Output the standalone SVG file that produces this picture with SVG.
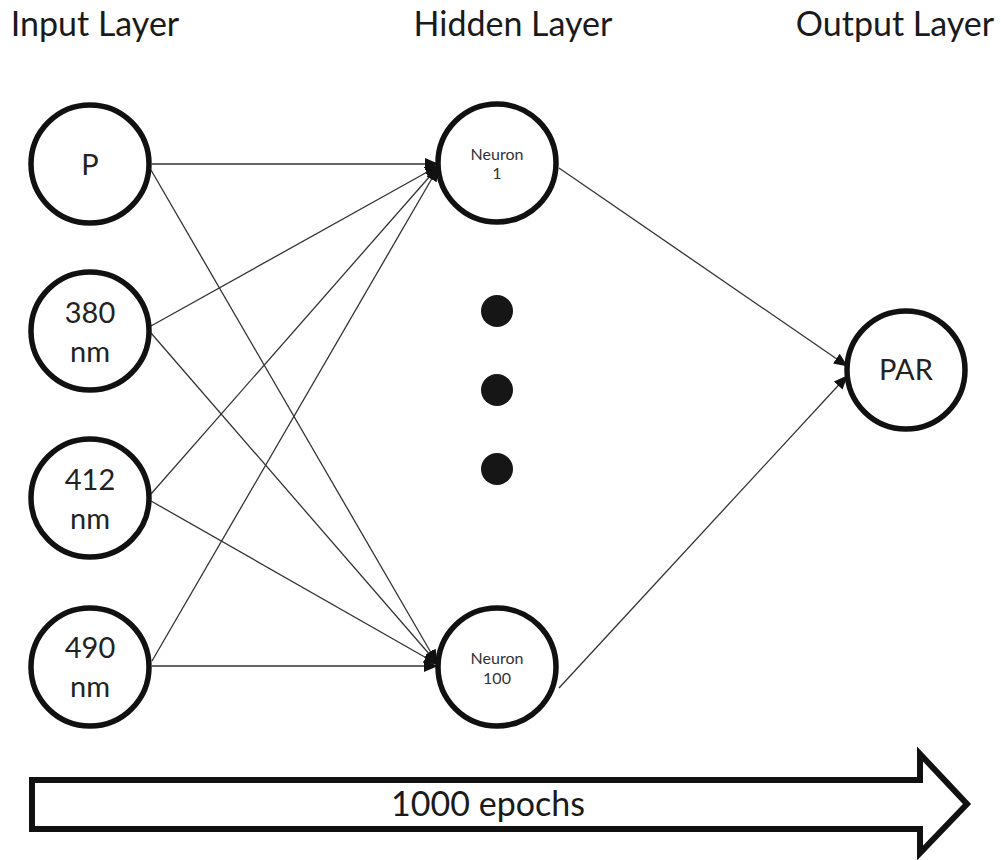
<svg xmlns="http://www.w3.org/2000/svg" width="1001" height="860" viewBox="0 0 1001 860">
<style>
.hdr{font-family:Lato,"Open Sans","Liberation Sans",sans-serif;font-size:34px;fill:#1a1a1a;text-anchor:middle}
.node{fill:#fff;stroke:#111;stroke-width:5.5}
.lbl{font-family:Lato,"Open Sans","Liberation Sans",sans-serif;font-size:29px;fill:#222;text-anchor:middle}
.big{font-family:Lato,"Open Sans","Liberation Sans",sans-serif;font-size:34px;fill:#1a1a1a;text-anchor:middle}
.small{font-family:Lato,"Open Sans","Liberation Sans",sans-serif;font-size:16px;fill:#333;text-anchor:middle}
.edge{stroke:#333;stroke-width:1.3;fill:none;marker-end:url(#ah)}
.dot{fill:#161616}
</style>
<defs>
<marker id="ah" markerUnits="userSpaceOnUse" markerWidth="14" markerHeight="12" viewBox="0 0 14 12" refX="13" refY="6" orient="auto">
<path d="M0,0 L14,6 L0,12 Z" fill="#111"/>
</marker>
</defs>
<g id="headers">
<text class="hdr" x="95" y="36">Input Layer</text>
<text class="hdr" x="513" y="36">Hidden Layer</text>
<text class="hdr" x="895" y="36">Output Layer</text>
</g>
<g id="connectors">
<line class="edge" x1="152" y1="164" x2="438" y2="164"/>
<line class="edge" x1="151" y1="170" x2="437" y2="663"/>
<line class="edge" x1="151" y1="326" x2="438" y2="166"/>
<line class="edge" x1="151" y1="333" x2="437" y2="663"/>
<line class="edge" x1="151" y1="494" x2="438" y2="167"/>
<line class="edge" x1="151" y1="501" x2="437" y2="664"/>
<line class="edge" x1="152" y1="661" x2="438" y2="168"/>
<line class="edge" x1="152" y1="666" x2="437" y2="666"/>
<line class="edge" x1="559" y1="168" x2="847" y2="366"/>
<line class="edge" x1="559" y1="688" x2="847" y2="376"/>
</g>
<g id="node-P"><circle class="node" cx="90" cy="164" r="59"/><text class="lbl" x="90" y="175">P</text></g>
<g id="node-380"><circle class="node" cx="90" cy="331" r="59"/><text class="lbl" x="90" y="323">380</text><text class="lbl" x="90" y="362">nm</text></g>
<g id="node-412"><circle class="node" cx="90" cy="498" r="59"/><text class="lbl" x="90" y="490">412</text><text class="lbl" x="90" y="529">nm</text></g>
<g id="node-490"><circle class="node" cx="90" cy="667" r="59"/><text class="lbl" x="90" y="658">490</text><text class="lbl" x="90" y="697">nm</text></g>
<g id="node-neuron1"><circle class="node" cx="497" cy="163" r="59"/><text class="small" x="497" y="160">Neuron</text><text class="small" x="497" y="179">1</text></g>
<g id="dots"><circle class="dot" cx="497" cy="311" r="16"/><circle class="dot" cx="497" cy="390" r="16"/><circle class="dot" cx="497" cy="469" r="16"/></g>
<g id="node-neuron100"><circle class="node" cx="497" cy="667" r="59"/><text class="small" x="497" y="664">Neuron</text><text class="small" x="497" y="684">100</text></g>
<g id="node-PAR"><circle class="node" cx="906" cy="370" r="59"/><text class="lbl" x="906" y="380">PAR</text></g>
<g id="epochs">
<path d="M32,780 L920,780 L920,754 L967,804 L920,853 L920,829 L32,829 Z" fill="#fff" stroke="#111" stroke-width="6" stroke-linejoin="miter"/>
<text class="big" x="488" y="816">1000 epochs</text>
</g>
</svg>
